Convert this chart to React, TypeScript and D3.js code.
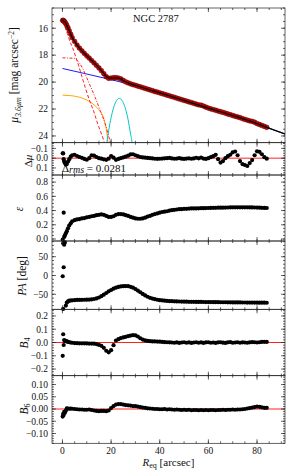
import React from "react";
import * as d3 from "d3";

// isophote radii [arcsec]
const radii = [
  0.1, 0.3, 0.5, 0.7, 1.0, 1.4, 1.8, 2.3, 2.8, 3.4, 4,
  5, 6, 7, 8, 9, 10, 11, 12, 13, 14,
  15, 16, 17, 18, 19, 20, 21, 22, 23, 24,
  25, 26, 27, 28, 29, 30, 31, 32, 33, 34,
  35, 36, 37, 38, 39, 40, 41, 42, 43, 44,
  45, 46, 47, 48, 49, 50, 51, 52, 53, 54,
  55, 56, 57, 58, 59, 60, 61, 62, 63, 64,
  65, 66, 67, 68, 69, 70, 71, 72, 73, 74,
  75, 76, 77, 78, 79, 80, 81, 82, 83, 84,
];

const mu = [
  15.42, 15.43, 15.45, 15.48, 15.55, 15.66, 15.8, 15.98, 16.2, 16.45, 16.7,
  16.98, 17.25, 17.48, 17.68, 17.87, 18.05, 18.22, 18.4, 18.58, 18.76,
  18.95, 19.15, 19.38, 19.6, 19.72, 19.7, 19.68, 19.67, 19.7, 19.76,
  19.88, 19.98, 20.06, 20.13, 20.19, 20.24, 20.3, 20.35, 20.41, 20.47,
  20.53, 20.58, 20.64, 20.7, 20.75, 20.8, 20.86, 20.91, 20.97, 21.02,
  21.08, 21.13, 21.19, 21.25, 21.3, 21.36, 21.41, 21.47, 21.52, 21.58,
  21.64, 21.69, 21.72, 21.78, 21.86, 21.93, 21.99, 22.04, 22.09, 22.15,
  22.2, 22.25, 22.31, 22.37, 22.42, 22.48, 22.54, 22.59, 22.64, 22.71,
  22.77, 22.83, 22.88, 22.92, 22.98, 23.08, 23.15, 23.22, 23.29, 23.36,
];

const dmu = [
  -0.05, -0.048, 0.01, 0.035, 0.05, 0.065, 0.06, 0.035, 0.01, -0.015, -0.03,
  -0.035, -0.022, -0.012, -0.003, 0.008, 0.016, 0.0, -0.03, -0.025, -0.012,
  0.0, 0.005, 0.012, 0.017, 0.005, -0.022, -0.005, 0.017, 0.008, 0.0,
  -0.008, -0.015, -0.025, -0.038, -0.04, -0.03, -0.02, -0.012, -0.008, -0.005,
  -0.002, 0.0, 0.003, 0.006, 0.007, 0.006, 0.004, 0.002, 0.0, -0.002,
  0.003, 0.006, 0.004, 0.0, 0.005, 0.008, 0.004, 0.002, 0.006, 0.003,
  -0.004, 0.002, -0.006, 0.004, 0.008, 0.0, -0.01, -0.02, -0.034, 0.01,
  0.045, 0.03, 0.0, -0.02, -0.035, -0.06, -0.068, -0.03, 0.03, 0.06,
  0.07, 0.08, 0.05, 0.02, -0.03, -0.07, -0.065, -0.04, -0.01, 0.005,
];

const ellip = [
  -0.01, -0.06, 0.37, 0.03, 0.05, 0.08, 0.11, 0.15, 0.19, 0.22, 0.25,
  0.265, 0.275, 0.28, 0.29, 0.295, 0.305, 0.31, 0.32, 0.325, 0.335,
  0.34, 0.345, 0.34, 0.325, 0.31, 0.31, 0.32, 0.34, 0.35, 0.35,
  0.345, 0.335, 0.325, 0.31, 0.3, 0.29, 0.285, 0.285, 0.29, 0.3,
  0.315, 0.325, 0.34, 0.35, 0.36, 0.37, 0.38, 0.385, 0.39, 0.4,
  0.405, 0.41, 0.415, 0.42, 0.42, 0.425, 0.425, 0.428, 0.43, 0.43,
  0.43, 0.432, 0.433, 0.434, 0.435, 0.436, 0.437, 0.438, 0.439, 0.44,
  0.44, 0.441, 0.442, 0.443, 0.444, 0.445, 0.445, 0.446, 0.446, 0.446,
  0.446, 0.445, 0.444, 0.444, 0.443, 0.442, 0.44, 0.438, 0.437, 0.436,
];

const pa = [
  -2, -89, 22, 82, 88, -80, -72, -69, -67, -66.5, -66,
  -65.5, -65, -65, -64.8, -64.5, -64.3, -64, -63.5, -62.5, -61,
  -58.5, -55, -51, -46.5, -42, -38.5, -35, -32.5, -30.5, -29,
  -28.3, -28, -28.5, -30, -32.5, -36, -40, -44.5, -49, -53,
  -56.5, -59.5, -61.5, -63, -64.5, -65.5, -66.3, -67, -67.5, -68,
  -68.3, -68.6, -68.9, -69.1, -69.3, -69.5, -69.7, -69.9, -70, -70.1,
  -70.2, -70.3, -70.4, -70.5, -70.6, -70.7, -70.8, -70.9, -71, -71,
  -71.1, -71.2, -71.2, -71.3, -71.4, -71.5, -71.5, -71.6, -71.7, -71.8,
  -71.8, -71.9, -72, -72, -72.1, -72.2, -72.2, -72.3, -72.4, -72.5,
];

const b4 = [
  -0.1, 0.062, -0.019, 0.019, 0.011, 0.012, 0.008, 0.004, 0.002, 0.0, -0.002,
  -0.004, -0.005, -0.006, -0.006, -0.006, -0.007, -0.008, -0.008, -0.009, -0.012,
  -0.018, -0.025, -0.04, -0.062, -0.074, -0.058, -0.02, 0.015, 0.025, 0.033,
  0.038, 0.043, 0.048, 0.052, 0.055, 0.054, 0.045, 0.032, 0.022, 0.016,
  0.012, 0.01, 0.008, 0.008, 0.007, 0.006, 0.004, 0.003, 0.002, 0.001,
  0.0, -0.002, 0.001, -0.003, 0.0, 0.002, -0.002, 0.001, -0.003, 0.0,
  0.002, -0.002, 0.001, -0.003, 0.001, 0.002, -0.002, 0.0, -0.003, 0.001,
  0.002, -0.001, -0.003, 0.001, 0.003, -0.002, 0.0, 0.002, -0.002, 0.001,
  0.0, -0.002, 0.001, 0.003, 0.002, 0.0, 0.002, 0.004, 0.005, 0.004,
];

const b6 = [
  -0.031, -0.02, -0.024, -0.012, -0.015, -0.007, 0.003, 0.002, 0.001, 0.002, 0.001,
  0.0, -0.001, -0.002, -0.002, -0.003, -0.003, -0.002, -0.004, -0.006, -0.008,
  -0.009, -0.008, -0.008, -0.009, -0.006, 0.004, 0.012, 0.018, 0.02, 0.02,
  0.018, 0.016, 0.015, 0.014, 0.012, 0.012, 0.01, 0.008, 0.006, 0.005,
  0.003, 0.002, 0.001, 0.0, 0.0, -0.001, -0.001, 0.0, -0.002, -0.001,
  -0.002, -0.003, -0.002, -0.003, -0.004, -0.003, -0.004, -0.003, -0.005, -0.004,
  -0.004, -0.005, -0.004, -0.005, -0.004, -0.005, -0.004, -0.004, -0.005, -0.004,
  -0.004, -0.003, -0.004, -0.003, -0.003, -0.002, -0.003, -0.002, -0.002, -0.001,
  0.0, 0.002, 0.004, 0.006, 0.008, 0.01, 0.009, 0.007, 0.005, 0.005,
];

// model components of the surface brightness profile
const modelR = [0, 1, 2, 3, 4, 5, 6, 8, 10, 12, 14, 16, 17, 18, 19, 20, 22, 23, 24, 25, 26, 28, 30, 35, 40, 50, 60, 70, 80, 84, 91.5];
const modelMu = [15.43, 15.53, 15.88, 16.27, 16.68, 16.98, 17.25, 17.68, 18.05, 18.4, 18.76, 19.15, 19.37, 19.58, 19.7, 19.71, 19.68, 19.7, 19.76, 19.88, 19.98, 20.13, 20.24, 20.53, 20.8, 21.36, 21.93, 22.48, 23.08, 23.36, 23.85];
const diskR = [0, 10, 20, 30, 40, 50, 60, 70, 80, 91.5];
const diskMu = [18.99, 19.4, 19.82, 20.28, 20.81, 21.37, 21.94, 22.49, 23.1, 23.86];
const nucR = [0, 1.2, 2, 3, 4.2, 5.5, 6.7, 8, 9.4, 11, 12.8, 14.5, 17, 17.5];
const nucMu = [15.55, 15.98, 16.4, 16.95, 17.46, 18.15, 18.8, 19.6, 20.42, 21.3, 22.15, 23.1, 24.37, 24.7];
const bulgeR = [0, 2, 4, 5.5, 7, 8.5, 9.4, 11, 13.5, 15.5, 17.6, 19.7, 20];
const bulgeMu = [18.2, 18.21, 18.23, 18.3, 18.6, 19.05, 19.43, 20.1, 21.16, 22.1, 23.1, 24.5, 24.7];
const barR = [0, 3, 6.7, 9, 10.8, 12.5, 14.2, 15.3, 16.3, 17, 17.6, 18.2, 18.7, 18.8];
const barMu = [20.97, 21.0, 21.11, 21.25, 21.41, 21.62, 21.9, 22.12, 22.4, 22.72, 23.14, 23.7, 24.5, 24.7];
const ringR = [18.1, 19, 20, 21, 22, 23, 23.4, 24, 25, 26, 27, 28, 28.6, 28.7];
const ringMu = [24.7, 23.6, 22.64, 21.92, 21.45, 21.23, 21.21, 21.25, 21.52, 22.03, 22.8, 23.85, 24.5, 24.7];

const xTicks = [0, 20, 40, 60, 80];
const muTicks = [16, 18, 20, 22, 24];
const dmuTicks = [-0.1, 0.0, 0.1];
const epsTicks = [0.0, 0.2, 0.4, 0.6, 0.8];
const paTicks = [-50, 0, 50];
const b4Ticks = [-0.2, -0.1, 0.0, 0.1, 0.2];
const b6Ticks = [-0.1, -0.05, 0.0, 0.05, 0.1];

const FONT = "'Liberation Serif', 'DejaVu Serif', serif";
const L = 52;
const R = 285;
const x = d3.scaleLinear().domain([-4.3, 91.5]).range([L, R]);

const yMu = d3.scaleLinear().domain([14.5, 24.5]).range([8, 142.7]);
const yDmu = d3.scaleLinear().domain([-0.158, 0.172]).range([142.7, 175]);
const yEps = d3.scaleLinear().domain([-0.028, 0.9]).range([241, 175]);
const yPa = d3.scaleLinear().domain([-89.9, 91.8]).range([309.3, 241]);
const yB4 = d3.scaleLinear().domain([-0.25, 0.25]).range([375.7, 309.3]);
const yB6 = d3.scaleLinear().domain([-0.14, 0.136]).range([443.3, 375.7]);

function Frame({ y, ticks, minor, fmt, showX }) {
  const [y0, y1] = y.range();
  const top = Math.min(y0, y1);
  const bot = Math.max(y0, y1);
  const [d0, d1] = d3.extent(y.domain());
  const yMinor = d3.range(Math.ceil(d0 / minor) * minor, d1 + 1e-9, minor);
  const xMinor = d3.range(0, 91, 5);
  return (
    <g stroke="#222" strokeWidth={0.7}>
      {xMinor.map((t) => (
        <g key={"xm" + t}>
          <line x1={x(t)} x2={x(t)} y1={top} y2={top + 2} />
          <line x1={x(t)} x2={x(t)} y1={bot} y2={bot - 2} />
        </g>
      ))}
      {xTicks.map((t) => (
        <g key={"x" + t}>
          <line x1={x(t)} x2={x(t)} y1={top} y2={top + 4} />
          <line x1={x(t)} x2={x(t)} y1={bot} y2={bot - 4} />
        </g>
      ))}
      {yMinor.map((t, i) => (
        <g key={"ym" + i}>
          <line x1={L} x2={L + 2} y1={y(t)} y2={y(t)} />
          <line x1={R} x2={R - 2} y1={y(t)} y2={y(t)} />
        </g>
      ))}
      {ticks.map((t) => (
        <g key={"y" + t}>
          <line x1={L} x2={L + 4} y1={y(t)} y2={y(t)} />
          <line x1={R} x2={R - 4} y1={y(t)} y2={y(t)} />
          <text x={L - 4} y={y(t) + 3.3} textAnchor="end" stroke="none" fill="#111" fontSize={9.5}>
            {fmt(t)}
          </text>
        </g>
      ))}
      {showX &&
        xTicks.map((t) => (
          <text key={"xl" + t} x={x(t)} y={453.5} textAnchor="middle" stroke="none" fill="#111" fontSize={9.5}>
            {t}
          </text>
        ))}
      <rect x={L} y={top} width={R - L} height={bot - top} fill="none" />
    </g>
  );
}

function pathOf(xs, ys, yScale) {
  const pts = xs.map((r, i) => [r, ys[i]]);
  return d3
    .line()
    .x((d) => x(d[0]))
    .y((d) => yScale(d[1]))
    .curve(d3.curveMonotoneX)(pts);
}

function Dots({ vals, y, r = 2.1 }) {
  return (
    <g fill="#000">
      {radii.map((rr, i) => (
        <circle key={i} cx={x(rr)} cy={y(vals[i])} r={r} />
      ))}
    </g>
  );
}

export default function App() {
  const f1 = d3.format(".1f");
  const f2 = d3.format(".2f");
  const f0 = d3.format("d");
  return (
    <svg width={293} height={471} style={{ position: "absolute", left: 0, top: 0, background: "#fff" }} fontFamily={FONT}>
      <defs>
        <clipPath id="clipMu">
          <rect x={L} y={8} width={R - L} height={142.7 - 8} />
        </clipPath>
      </defs>

      {/* surface brightness */}
      <g clipPath="url(#clipMu)" fill="none" strokeWidth={1}>
        <path d={pathOf(diskR, diskMu, yMu)} stroke="#1a1aff" />
        <path d={pathOf(barR, barMu, yMu)} stroke="#ffa500" />
        <path d={pathOf(ringR, ringMu, yMu)} stroke="#00c6c6" />
        <path d={pathOf(nucR, nucMu, yMu)} stroke="#ff2020" strokeDasharray="3.5,2" />
        <path d={pathOf(bulgeR, bulgeMu, yMu)} stroke="#ff2020" strokeDasharray="3,1.5,1,1.5" />
        <g fill="#d00000" stroke="#500000" strokeWidth={0.5}>
          {radii.map((rr, i) => (
            <circle key={i} cx={x(rr)} cy={yMu(mu[i])} r={2.4} />
          ))}
        </g>
        <path d={pathOf(modelR, modelMu, yMu)} stroke="#000" strokeWidth={1.2} />
      </g>
      <text x={133} y={21.5} fontSize={10.5} fill="#111">NGC 2787</text>
      <Frame y={yMu} ticks={muTicks} minor={0.5} fmt={f0} showX={false} />

      {/* residuals */}
      <text x={62} y={172} fontSize={11} fill="#111">
        Δ<tspan fontStyle="italic" fontSize={10} dy={1}>rms</tspan>
        <tspan dy={-1}> = 0.0281</tspan>
      </text>
      <line x1={L} x2={R} y1={yDmu(0)} y2={yDmu(0)} stroke="#ff2020" strokeWidth={1} />
      <Dots vals={dmu} y={yDmu} />
      <Frame y={yDmu} ticks={dmuTicks} minor={0.025} fmt={f1} showX={false} />

      {/* ellipticity */}
      <Dots vals={ellip} y={yEps} />
      <Frame y={yEps} ticks={epsTicks} minor={0.05} fmt={f1} showX={false} />

      {/* position angle */}
      <Dots vals={pa} y={yPa} />
      <Frame y={yPa} ticks={paTicks} minor={10} fmt={f0} showX={false} />

      {/* B4 */}
      <line x1={L} x2={R} y1={yB4(0)} y2={yB4(0)} stroke="#ff2020" strokeWidth={1} />
      <Dots vals={b4} y={yB4} />
      <Frame y={yB4} ticks={b4Ticks} minor={0.02} fmt={f1} showX={false} />

      {/* B6 */}
      <line x1={L} x2={R} y1={yB6(0)} y2={yB6(0)} stroke="#ff2020" strokeWidth={1} />
      <Dots vals={b6} y={yB6} />
      <Frame y={yB6} ticks={b6Ticks} minor={0.01} fmt={f2} showX={true} />

      {/* axis labels */}
      <g fill="#111">
        <text transform="translate(18,75) rotate(-90)" textAnchor="middle" fontSize={11.5}>
          <tspan fontStyle="italic">μ</tspan>
          <tspan fontStyle="italic" fontSize={8} dy={2.5}>3.6μm</tspan>
          <tspan dy={-2.5}> [mag arcsec</tspan>
          <tspan fontSize={7.5} dy={-4}>−2</tspan>
          <tspan dy={4}>]</tspan>
        </text>
        <text transform="translate(31.5,161) rotate(-90)" textAnchor="middle" fontSize={11}>
          Δ<tspan fontStyle="italic">μ</tspan>
        </text>
        <text transform="translate(22.5,209) rotate(-90)" textAnchor="middle" fontSize={11.5} fontStyle="italic">
          ε
        </text>
        <text transform="translate(25.5,276) rotate(-90)" textAnchor="middle" fontSize={11.5}>
          <tspan fontStyle="italic">PA</tspan> [deg]
        </text>
        <text transform="translate(28,343) rotate(-90)" textAnchor="middle" fontSize={11.5}>
          <tspan fontStyle="italic">B</tspan>
          <tspan fontSize={8} dy={2}>4</tspan>
        </text>
        <text transform="translate(28,409) rotate(-90)" textAnchor="middle" fontSize={11.5}>
          <tspan fontStyle="italic">B</tspan>
          <tspan fontSize={8} dy={2}>6</tspan>
        </text>
        <text x={168.5} y={466} textAnchor="middle" fontSize={11}>
          <tspan fontStyle="italic">R</tspan>
          <tspan fontSize={8} dy={2}>eq</tspan>
          <tspan dy={-2}> [arcsec]</tspan>
        </text>
      </g>
    </svg>
  );
}
